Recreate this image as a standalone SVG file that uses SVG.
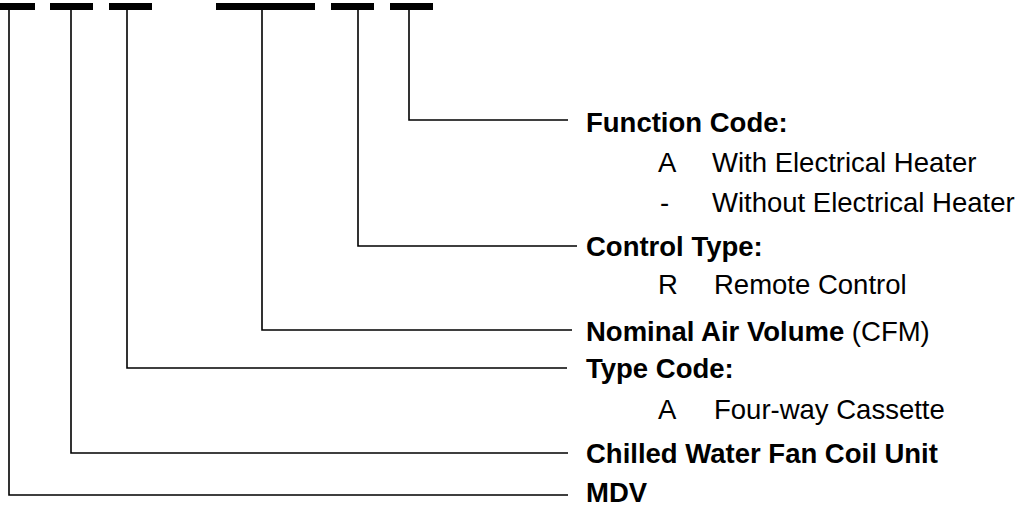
<svg xmlns="http://www.w3.org/2000/svg" width="1027" height="506" viewBox="0 0 1027 506">
<style>
.bar{fill:#000}
.ln{fill:none;stroke:#000;stroke-width:1.6}
.h{font-family:"Liberation Sans",Arial,sans-serif;font-size:27.5px;font-weight:bold;fill:#000}
.t{font-family:"Liberation Sans",Arial,sans-serif;font-size:27.5px;fill:#000}
</style>
<rect width="1027" height="506" fill="#fff"/>
<g id="bars">
<rect class="bar" x="0" y="3" width="35" height="7"/>
<rect class="bar" x="50" y="3" width="43" height="7"/>
<rect class="bar" x="109" y="3" width="43" height="7"/>
<rect class="bar" x="216" y="3" width="99" height="7"/>
<rect class="bar" x="331" y="3" width="43" height="7"/>
<rect class="bar" x="390" y="3" width="43" height="7"/>
</g>
<g id="connectors">
<polyline class="ln" points="409,10 409,120 568,120"/>
<polyline class="ln" points="358,10 358,246 577,246"/>
<polyline class="ln" points="262,10 262,330 572,330"/>
<polyline class="ln" points="127,10 127,368 567,368"/>
<polyline class="ln" points="71,10 71,453 568,453"/>
<polyline class="ln" points="9,10 9,495 568,495"/>
</g>
<g id="function-code">
<text class="h" x="586" y="132">Function Code:</text>
<text class="t" x="658" y="172">A</text>
<text class="t" x="712" y="172">With Electrical Heater</text>
<text class="t" x="660" y="212">-</text>
<text class="t" x="712" y="212">Without Electrical Heater</text>
</g>
<g id="control-type">
<text class="h" x="586" y="256">Control Type:</text>
<text class="t" x="658" y="294">R</text>
<text class="t" x="714" y="294">Remote Control</text>
</g>
<g id="nominal-air-volume">
<text x="586" y="341"><tspan class="h">Nominal Air Volume</tspan><tspan class="t"> (CFM)</tspan></text>
</g>
<g id="type-code">
<text class="h" x="586" y="378">Type Code:</text>
<text class="t" x="658" y="419">A</text>
<text class="t" x="714" y="419">Four-way Cassette</text>
</g>
<g id="chilled-water">
<text class="h" x="586" y="463">Chilled Water Fan Coil Unit</text>
</g>
<g id="mdv">
<text class="h" x="586" y="502">MDV</text>
</g>
</svg>
